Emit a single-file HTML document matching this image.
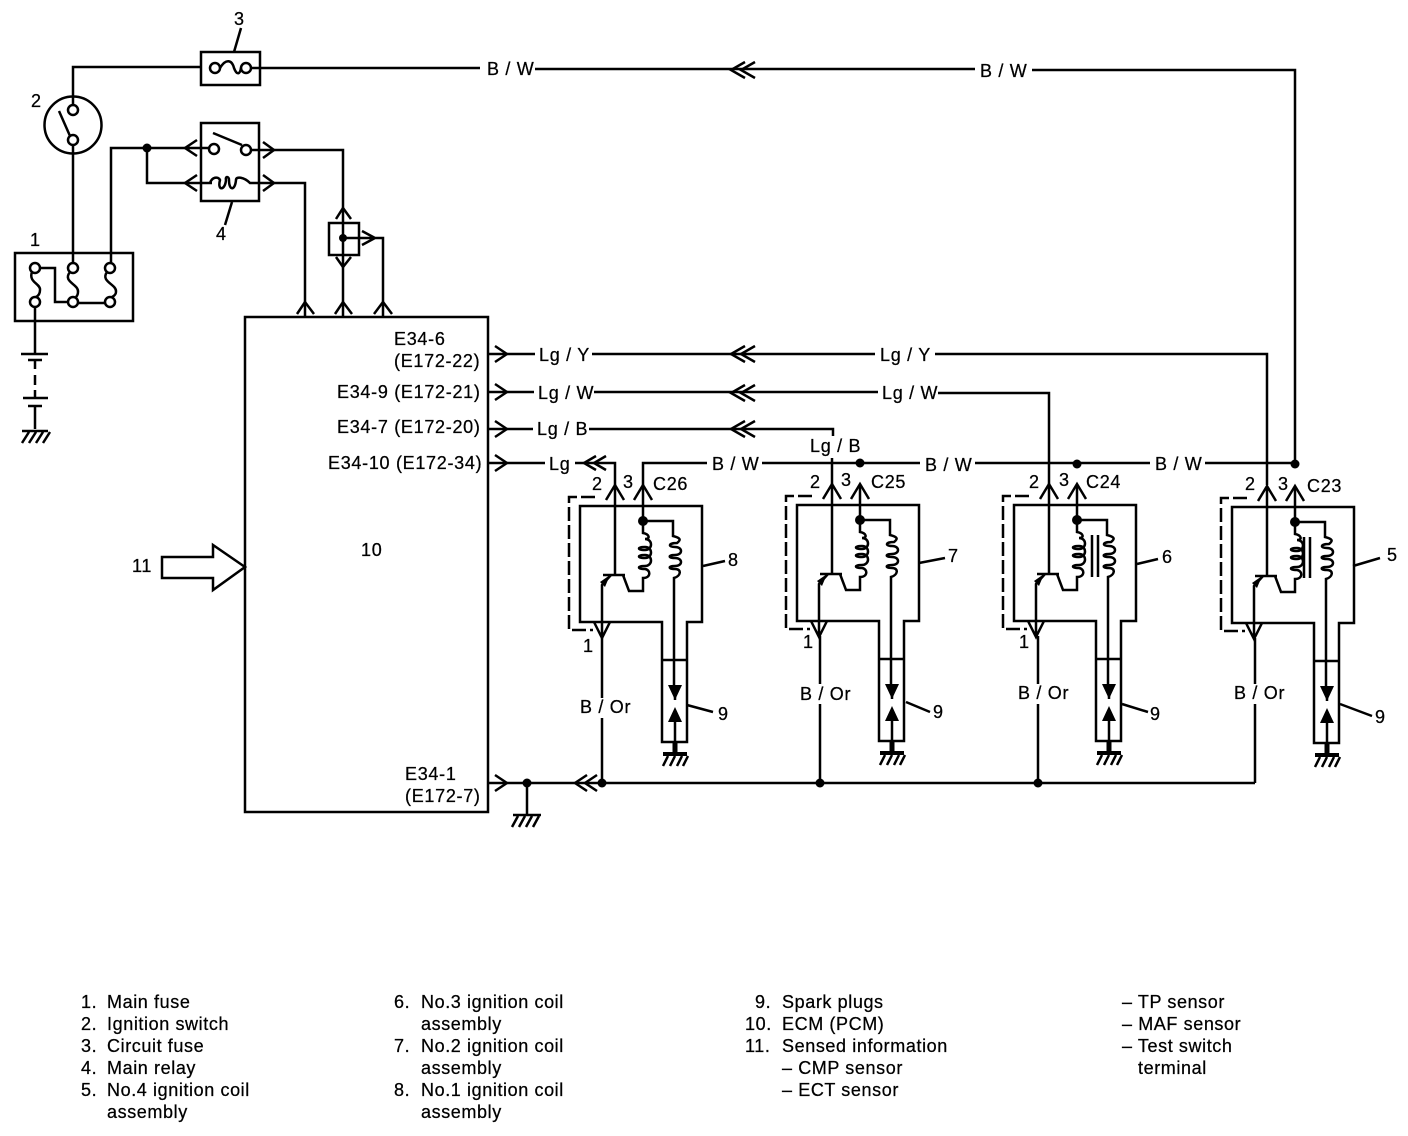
<!DOCTYPE html>
<html><head><meta charset="utf-8"><style>
html,body{margin:0;padding:0;background:#fff}
svg{display:block}
text{font-family:"Liberation Sans",sans-serif;font-size:18px;fill:#000;stroke:#000;stroke-width:.25;letter-spacing:.7px}
.l text{letter-spacing:.6px}
.w{fill:none;stroke:#000;stroke-width:2.5}
.t{fill:#fff;stroke:#000;stroke-width:2.5}
.d{fill:#000;stroke:none}
</style></head><body>
<svg width="1408" height="1136" viewBox="0 0 1408 1136" xmlns="http://www.w3.org/2000/svg">
<defs>
<g id="coil">
<path class="w" d="M-35,0H87V116H72V236H47V116H-35Z"/>
<path class="w" d="M47,154H72"/>
<path class="w" d="M0,-21V69M-12,69H10M-4,69L-13,79V132M-9,-6L0,-21L9,-6M19,-6L28,-21L37,-6M-21,116L-13,132L-5,116"/>
<path class="d" d="M-5,69L-15,76L-10,81Z"/>
<path class="w" d="M8,69L14,85H28V72C36,72 36,64 30,63C22,63 22,60 30,60C38,60 38,49 30,49C22,49 22,52 30,52C38,52 38,41 30,41C22,41 22,44 30,44C38,44 38,33 30,33C36,33 34,28 28,27V-21"/>
<path class="w" d="M28,15H58V30C66,32 66,34 62,37C53,37 53,41 60,41C68,41 68,49 60,49C53,49 53,52 60,52C68,52 68,60 60,60C53,60 53,63 60,63C67,63 66,70 59,72V179"/>
<circle class="d" cx="28" cy="15" r="5"/>
<path class="w" d="M60,179V194M60,216V236"/>
<path class="d" d="M53,179H67L60,194ZM60,201L67,216H53Z"/>
<path d="M60,236V247" stroke="#000" stroke-width="5" fill="none"/>
<path d="M48,248H72" stroke="#000" stroke-width="4" fill="none"/>
<path class="w" d="M53,250L48,260M60,250L55,260M67,250L62,260M73,250L68,260"/>
<path class="w" stroke-dasharray="14,4" d="M-20,-9H-46V124H-22"/>
</g>
<g id="gnd"><path class="w" d="M0,0H26M7,1L0,12M14,1L7,12M21,1L14,12M28,1L21,12"/></g>
</defs>

<!-- top wire -->
<path class="w" d="M73,110V67H201V52H260V85H201V67"/>
<path class="w" d="M251,68H480M535,69H975M1032,70H1295V463"/>
<circle class="t" cx="215" cy="68" r="5"/><circle class="t" cx="246" cy="68" r="5"/>
<path class="w" d="M220,68C226,58 232,60 234,68C237,76 240,74 241,68"/>
<path class="w" d="M745,62L731,70L745,78M755,62L741,70L755,78"/>
<text x="487" y="75">B / W</text><text x="980" y="77">B / W</text>
<text x="234" y="25">3</text><path class="w" d="M241,28L234,52"/>

<!-- switch -->
<text x="31" y="107">2</text>
<circle class="w" cx="73" cy="125" r="28.5"/>
<circle class="t" cx="73" cy="110" r="5"/><circle class="t" cx="73" cy="140" r="5"/>
<path class="w" d="M59,111L70,136M73,145V263"/>

<!-- main fuse -->
<text x="30" y="246" >1</text>
<rect class="w" x="15" y="253" width="118" height="68"/>
<circle class="t" cx="35" cy="268" r="5"/><circle class="t" cx="73" cy="268" r="5"/><circle class="t" cx="110" cy="268" r="5"/>
<circle class="t" cx="35" cy="302" r="5"/><circle class="t" cx="73" cy="302" r="5"/><circle class="t" cx="110" cy="302" r="5"/>
<path class="w" d="M32,272C28,282 41,284 40,290C40,294 38,296 36,297M70,272C62,282 79,284 78,292C78,294 77,296 76,297M107,272C100,282 117,284 116,292C116,294 114,296 112,297"/>
<path class="w" d="M40,268H55V302H68M78,303H105M111,263V148H190"/>
<path class="w" d="M35,307V353M21,354H48M28,360H42M35,360V369M35,375V385M35,390V398M23,398H48M28,406H42M35,406V429"/>
<use href="#gnd" x="22" y="431"/>

<!-- relay -->
<rect class="w" x="201" y="123" width="58" height="78"/>
<circle class="d" cx="147" cy="148" r="4.5"/>
<path class="w" d="M147,148V183H190M187,148H209M187,183H212"/>
<path class="w" d="M197,140L185,148L197,156M197,175L185,183L197,191"/>
<circle class="t" cx="214" cy="149" r="5"/><circle class="t" cx="246" cy="150" r="5"/>
<path class="w" d="M213,133L242,145"/>
<path class="w" d="M251,150H343V317"/>
<path class="w" d="M263,142L274,150L263,158M263,175L274,183L263,191"/>
<path class="w" d="M210,183C212,177 218,176 220,180C217,191 225,191 226,180C225,176 229,176 229,180C229,191 235,191 236,180C236,176 244,177 250,183H305V317"/>
<text x="216" y="240">4</text><path class="w" d="M232,202L225,225"/>

<!-- test terminal -->
<rect class="w" x="329" y="223" width="30" height="32"/>
<circle class="d" cx="343" cy="238" r="4"/>
<path class="w" d="M343,238H383V317M362,231L375,238L362,245M336,219L343,208L351,219M336,257L343,267L351,257"/>

<!-- ECM -->
<rect class="w" x="245" y="317" width="243" height="495"/>
<path class="w" d="M297,314L305,302L314,314M335,314L343,302L352,314M374,314L383,302L392,314"/>
<text x="394" y="345">E34-6</text><text x="394" y="367">(E172-22)</text>
<text x="337" y="398">E34-9 (E172-21)</text>
<text x="337" y="433">E34-7 (E172-20)</text>
<text x="328" y="469">E34-10 (E172-34)</text>
<text x="405" y="780">E34-1</text><text x="405" y="802">(E172-7)</text>
<text x="361" y="556">10</text>
<text x="132" y="572">11</text>
<path class="w" d="M162,557H213V545L245,567L213,590V578H162Z"/>

<!-- signal wires -->
<path class="w" d="M488,354H535M592,354H875M935,354H1267V485"/>
<path class="w" d="M488,392H534M594,392H878M938,393H1049V485"/>
<path class="w" d="M488,429H533M589,429H833V436"/>
<path class="w" d="M488,463H545M575,463H615V485"/>
<path class="w" d="M832,458V485"/>
<path class="w" d="M643,485V463H707M762,463H920M975,463H1150M1205,463H1295"/>
<path class="w" d="M495,346L507,354L495,362M495,384L507,392L495,400M495,421L507,429L495,437M495,455L507,463L495,471"/>
<path class="w" d="M745,346L731,354L745,362M755,346L741,354L755,362M745,385L731,393L745,401M755,385L741,393L755,401M745,421L731,429L745,437M755,421L741,429L755,437"/>
<path class="w" d="M596,456L584,463L596,470M606,456L594,463L606,470"/>
<text x="539" y="361">Lg / Y</text><text x="880" y="361">Lg / Y</text>
<text x="538" y="399">Lg / W</text><text x="882" y="399">Lg / W</text>
<text x="537" y="435">Lg / B</text><text x="810" y="452">Lg / B</text>
<text x="549" y="470">Lg</text>
<text x="712" y="470">B / W</text><text x="925" y="471">B / W</text><text x="1155" y="470">B / W</text>
<circle class="d" cx="860" cy="463" r="4.5"/><circle class="d" cx="1077" cy="464" r="4.5"/><circle class="d" cx="1295" cy="464" r="4.5"/>

<!-- coils -->
<use href="#coil" x="615" y="506"/>
<use href="#coil" x="832" y="505"/>
<use href="#coil" x="1049" y="505"/>
<use href="#coil" x="1267" y="507"/>
<path class="w" d="M1092,535V577M1098,535V577M1304,537V578M1310,537V578"/>

<!-- B/Or + ground -->
<path class="w" d="M602,636V698M602,718V783M820,636V684M820,704V783M1038,636V684M1038,704V783M1255,638V684M1255,704V783"/>
<path class="w" d="M488,783H1255"/>
<path class="w" d="M495,775L507,783L495,791M587,775L575,783L587,791M597,775L585,783L597,791"/>
<circle class="d" cx="527" cy="783" r="4.5"/><circle class="d" cx="602" cy="783" r="4.5"/><circle class="d" cx="820" cy="783" r="4.5"/><circle class="d" cx="1038" cy="783" r="4.5"/>
<path class="w" d="M527,783V815"/>
<path d="M513,815H541" stroke="#000" stroke-width="2.5"/>
<path class="w" d="M518,816L512,827M525,816L519,827M532,816L526,827M539,816L533,827"/>
<text x="580" y="713">B / Or</text><text x="800" y="700">B / Or</text><text x="1018" y="699">B / Or</text><text x="1234" y="699">B / Or</text>

<!-- coil labels -->
<text x="592" y="490">2</text><text x="623" y="488">3</text><text x="653" y="490">C26</text><text x="583" y="652">1</text>
<text x="728" y="566">8</text><path class="w" d="M703,566L725,561"/>
<text x="718" y="720">9</text><path class="w" d="M687,705L713,712"/>
<text x="810" y="488">2</text><text x="841" y="486">3</text><text x="871" y="488">C25</text><text x="803" y="648">1</text>
<text x="948" y="562">7</text><path class="w" d="M919,563L945,558"/>
<text x="933" y="718">9</text><path class="w" d="M906,702L930,712"/>
<text x="1029" y="488">2</text><text x="1059" y="486">3</text><text x="1086" y="488">C24</text><text x="1019" y="648">1</text>
<text x="1162" y="563">6</text><path class="w" d="M1137,564L1158,559"/>
<text x="1150" y="720">9</text><path class="w" d="M1122,704L1148,712"/>
<text x="1245" y="490">2</text><text x="1278" y="490">3</text><text x="1307" y="492">C23</text>
<text x="1387" y="561">5</text><path class="w" d="M1353,566L1380,558"/>
<text x="1375" y="723">9</text><path class="w" d="M1340,704L1372,716"/>

<!-- legend -->
<g class="l">
<text x="81" y="1008">1.</text><text x="107" y="1008">Main fuse</text>
<text x="81" y="1030">2.</text><text x="107" y="1030">Ignition switch</text>
<text x="81" y="1052">3.</text><text x="107" y="1052">Circuit fuse</text>
<text x="81" y="1074">4.</text><text x="107" y="1074">Main relay</text>
<text x="81" y="1096">5.</text><text x="107" y="1096">No.4 ignition coil</text>
<text x="107" y="1118">assembly</text>
<text x="394" y="1008">6.</text><text x="421" y="1008">No.3 ignition coil</text>
<text x="421" y="1030">assembly</text>
<text x="394" y="1052">7.</text><text x="421" y="1052">No.2 ignition coil</text>
<text x="421" y="1074">assembly</text>
<text x="394" y="1096">8.</text><text x="421" y="1096">No.1 ignition coil</text>
<text x="421" y="1118">assembly</text>
<text x="755" y="1008">9.</text><text x="782" y="1008">Spark plugs</text>
<text x="745" y="1030">10.</text><text x="782" y="1030">ECM (PCM)</text>
<text x="745" y="1052">11.</text><text x="782" y="1052">Sensed information</text>
<text x="782" y="1074">– CMP sensor</text>
<text x="782" y="1096">– ECT sensor</text>
<text x="1122" y="1008">– TP sensor</text>
<text x="1122" y="1030">– MAF sensor</text>
<text x="1122" y="1052">– Test switch</text>
<text x="1138" y="1074">terminal</text>
</g>
</svg>
</body></html>
